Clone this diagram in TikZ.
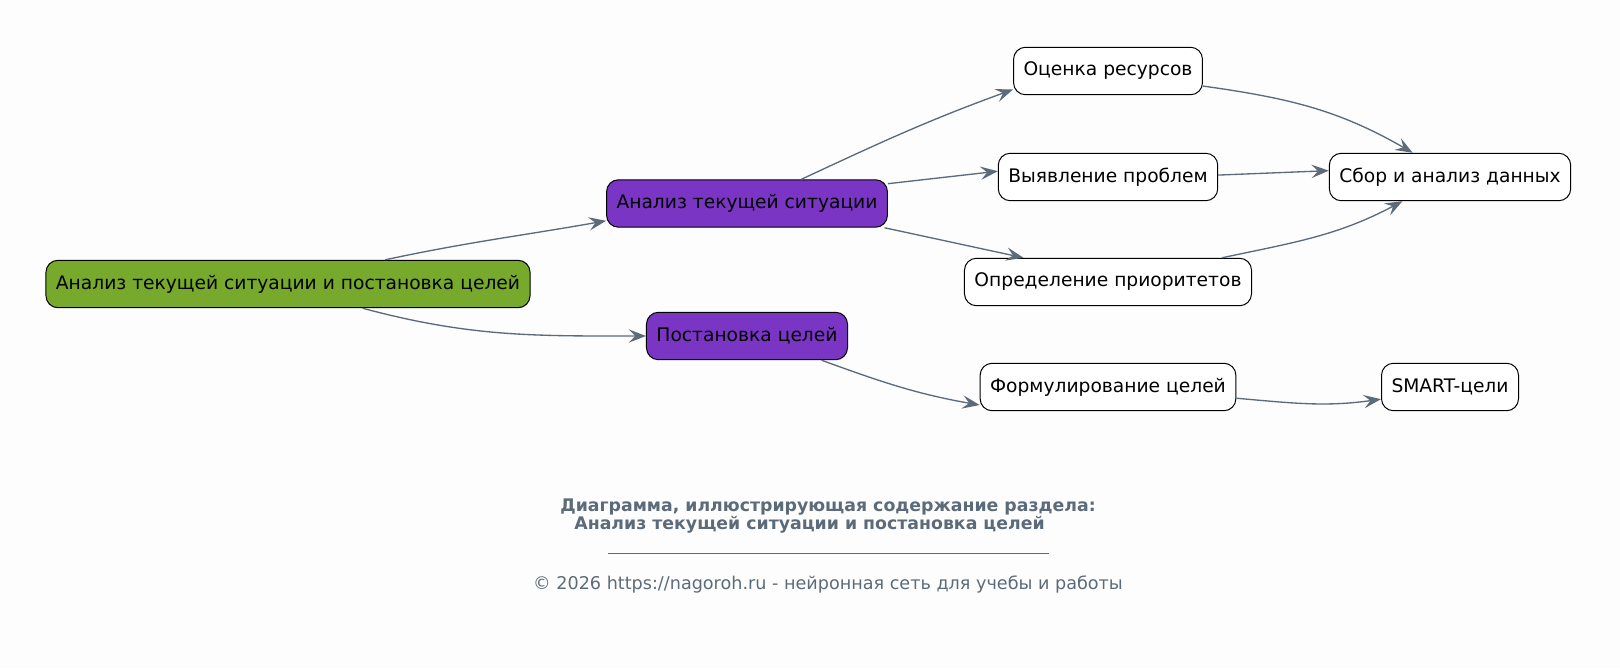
\documentclass[tikz,border=0pt]{standalone}
\usepackage{fontspec}
\setmainfont{DejaVu Sans}
\usepackage{tikz}
\usetikzlibrary{arrows.meta}
\definecolor{bgcol}{HTML}{FDFDFD}
\definecolor{rootcol}{HTML}{76A92C}
\definecolor{subcol}{HTML}{7B35C5}
\definecolor{edgecol}{HTML}{5C6B7A}
\tikzset{
	box/.style={draw=black, line width=0.75pt, rounded corners=9pt, minimum height=35.6pt, inner xsep=7.5pt, font=\fontsize{14}{17}\selectfont},
	rootbox/.style={box, fill=rootcol},
	subbox/.style={box, fill=subcol},
	leafbox/.style={box, fill=white},
	link/.style={draw=edgecol, line width=1pt, -{Stealth[length=13pt, width=10pt, inset=5pt]}}
}

\begin{document}
\begin{tikzpicture}[x=0.75pt, y=-0.75pt]
			%%%%% START %%%%%
			
			\fill[bgcol] (0, 0) rectangle (1620, 668);
			\useasboundingbox (0, 0) rectangle (1620, 668);
			
			\node[rootbox] (root) at (288, 284) {Анализ текущей ситуации и постановка целей};
			
			\node[subbox] (situation) at (747, 203.5) {Анализ текущей ситуации};
			\node[subbox] (goals) at (747, 336) {Постановка целей};
			
			\node[leafbox] (resources) at (1108, 71) {Оценка ресурсов};
			\node[leafbox] (problems) at (1108, 177) {Выявление проблем};
			\node[leafbox] (priorities) at (1108, 282) {Определение приоритетов};
			\node[leafbox] (wording) at (1108, 387) {Формулирование целей};
			
			\node[leafbox] (data) at (1450, 177) {Сбор и анализ данных};
			\node[leafbox] (smart) at (1450, 387) {SMART-цели};
			
			\draw[link] (root.14) to[out=12, in=190] (situation.187);
			\draw[link] (root.-18.6) to[out=-15, in=180] (goals.west);
			
			\draw[link] (situation.24) to[out=25, in=200] (resources.191);
			\draw[link] (situation.8) -- (problems.177.7);
			\draw[link] (situation.-10.3) -- (priorities.164.2);
			\draw[link] (goals.-18.6) to[out=-20, in=170] (wording.188.5);
			
			\draw[link] (resources.-9.6) to[out=-8, in=150] (data.147);
			\draw[link] (problems.1.8) -- (data.177.4);
			\draw[link] (priorities.12.1) to[out=12, in=208] (data.207.7);
			\draw[link] (wording.-5.8) to[out=-5, in=188] (smart.190.5);
			
			\node[text=edgecol, font=\bfseries\fontsize{13}{15}\selectfont] (title) at (828, 507) {Диаграмма, иллюстрирующая содержание раздела:};
			\node[text=edgecol, font=\bfseries\fontsize{13}{15}\selectfont] (subtitle) at (809.5, 525) {Анализ текущей ситуации и постановка целей};
			\draw[edgecol, line width=0.5pt] (607.5, 553) -- (1048.7, 553);
			\node[text=edgecol, font=\fontsize{13.2}{15}\selectfont] (copyright) at (828, 584) {© 2026 https://nagoroh.ru - нейронная сеть для учебы и работы};
			
			%%%%% END %%%%%
\end{tikzpicture}
\end{document}
